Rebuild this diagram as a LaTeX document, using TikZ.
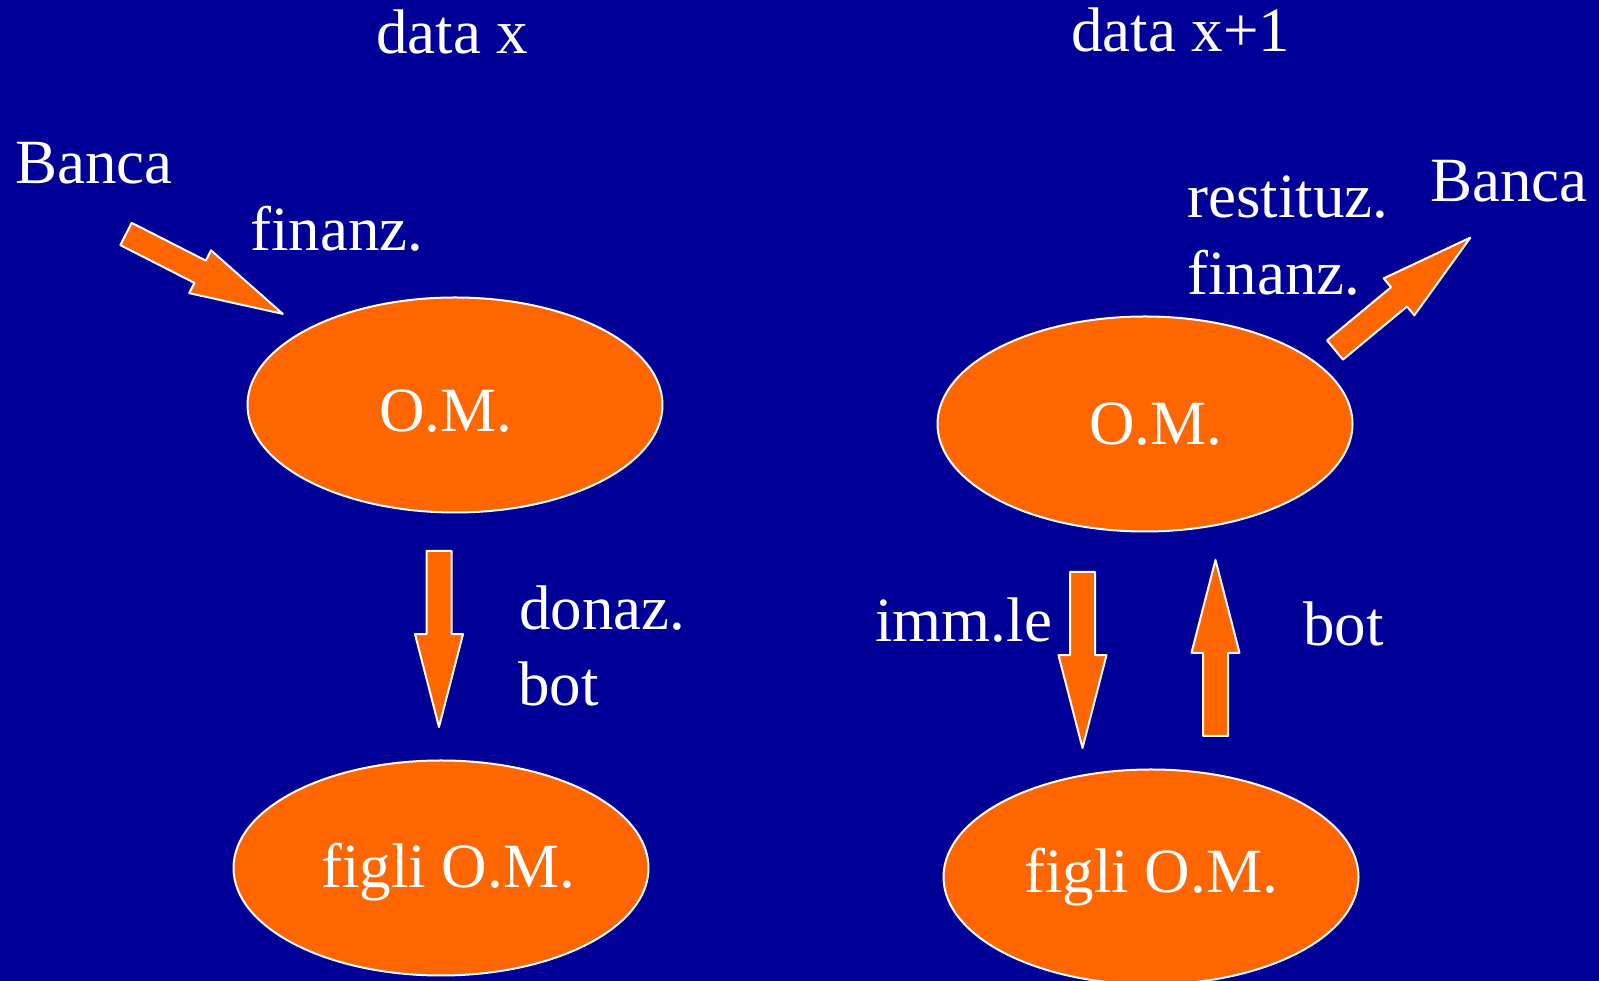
\documentclass[tikz,border=0pt]{standalone}
\usepackage{fontspec}
\setmainfont{Liberation Serif}
\usepackage{tikz}
\usetikzlibrary{shapes.geometric,shapes.arrows}
\definecolor{bgblue}{RGB}{0,0,153}
\definecolor{omorange}{RGB}{255,102,0}

\begin{document}
\begin{tikzpicture}[line cap=round,line join=round,x=1pt,y=1pt,
    omell/.style={ellipse,draw=white,line width=2pt,fill=omorange,
        minimum width=415pt,minimum height=215pt,inner sep=0pt},
    omtext/.style={text=white,inner sep=0pt},
    lbl/.style={text=white,anchor=base west,inner sep=0pt},
    blockarrow/.style={single arrow,draw=white,line width=2pt,fill=omorange,anchor=tail,
        minimum height=176pt,minimum width=46pt,inner xsep=0pt,inner ysep=11.5pt,
        single arrow head extend=11.5pt,single arrow tip angle=29,outer sep=0pt}]
                \fill [bgblue] (0,0) rectangle (1599,981);
                \useasboundingbox (0,0) rectangle (1599,981);
                \fontsize{63}{76}\selectfont
                % data x
                \node [omell] (omA) at (455,576) {};
                \node [omtext] (omAtext) at ([xshift=-9pt,yshift=-6pt]omA.center) {O.M.};
                \node [omell] (figliA) at (441,113) {};
                \node [omtext] (figliAtext) at ([xshift=7pt,yshift=-4pt]figliA.center) {figli O.M.};
                \node [lbl] (dataA) at (376,927) {data x};
                \node [lbl] (bancaA) at (15,797) {Banca};
                \node [lbl] (finanzA) at (250,730) {finanz.};
                \node [lbl] (donaz) at (519,351) {donaz.};
                \node [lbl] (botA) at (518,275) {bot};
                \node [blockarrow,rotate=-27] (arrFin) at (126,747) {};
                \node [blockarrow,rotate=-90] (arrDon) at (439,430) {};
                % data x+1
                \node [omell] (omB) at (1145,557) {};
                \node [omtext] (omBtext) at ([xshift=11pt]omB.center) {O.M.};
                \node [omell] (figliB) at (1151,104) {};
                \node [omtext] (figliBtext) at (figliB.center) {figli O.M.};
                \node [lbl] (dataB) at (1071,929) {data x+1};
                \node [lbl] (restituz) at (1187,763) {restituz.};
                \node [lbl] (finanzB) at (1187,686) {finanz.};
                \node [lbl] (bancaB) at (1430,779) {Banca};
                \node [lbl] (immle) at (875,339) {imm.le};
                \node [lbl] (botB) at (1303,335) {bot};
                \node [blockarrow,rotate=39.7] (arrRest) at (1335,631) {};
                \node [blockarrow,rotate=-90] (arrImm) at (1082.5,409) {};
                \node [blockarrow,rotate=90] (arrBot) at (1215.5,245) {};
\end{tikzpicture}
\end{document}
